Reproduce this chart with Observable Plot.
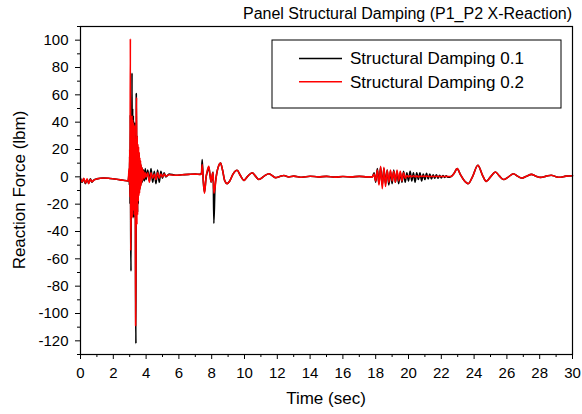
<!DOCTYPE html>
<html><head><meta charset="utf-8">
<script src="https://cdn.jsdelivr.net/npm/d3@7"></script>
<script src="https://cdn.jsdelivr.net/npm/@observablehq/plot@0.6"></script>
<style>body{margin:0;background:#fff} #chart{width:582px;height:414px}</style>
</head><body><div id="chart"></div>
<script>
const chartTitle = "Panel Structural Damping (P1_P2 X-Reaction)";
const xTitle = "Time (sec)";
const yTitle = "Reaction Force (lbm)";
const seriesNames = ["Structural Damping 0.1", "Structural Damping 0.2"];
const seriesColors = ["#000000", "#ff0000"];

const time = [
  0, 0.1, 0.2, 0.3, 0.4, 0.5, 0.6, 0.7, 0.8,
  1.0, 1.4, 1.8, 2.2, 2.6, 2.9,
  2.92, 2.94, 2.96, 2.98, 3.00, 3.02, 3.04, 3.06, 3.08, 3.10,
  3.12, 3.14, 3.16, 3.18, 3.20, 3.22, 3.24, 3.26, 3.28, 3.30,
  3.32, 3.34, 3.36, 3.38, 3.40, 3.42, 3.44, 3.46, 3.48, 3.50,
  3.52, 3.54, 3.56, 3.58, 3.60, 3.62, 3.64, 3.66, 3.68, 3.70,
  3.72, 3.74, 3.76, 3.78, 3.80, 3.85, 3.90, 3.95, 4.00,
  4.1, 4.2, 4.3, 4.4, 4.5, 4.6, 4.7, 4.8, 4.9, 5.0, 5.1, 5.2, 5.4,
  5.8, 6.2, 6.6, 7.0, 7.3,
  7.38, 7.42, 7.49, 7.56, 7.66, 7.74, 7.82, 7.90, 7.97, 8.05,
  8.09, 8.13, 8.20, 8.30, 8.42, 8.54, 8.66, 8.80, 8.94, 9.10,
  9.30, 9.55, 9.75, 9.96, 10.2, 10.47, 10.67, 10.87, 11.2, 11.48,
  11.7, 11.9, 12.15, 12.4, 12.7,
  13.0, 13.5, 14.0, 14.5, 15.0, 15.5, 16.0, 16.5, 17.0, 17.5, 17.8,
  17.9, 18.0, 18.1, 18.2, 18.3, 18.4, 18.5, 18.6, 18.7, 18.8,
  18.9, 19.0, 19.1, 19.2, 19.3, 19.4, 19.5, 19.6, 19.7, 19.8,
  19.9, 20.0, 20.1, 20.2, 20.3, 20.4, 20.5, 20.6, 20.7, 20.8,
  20.9, 21.0, 21.1, 21.2, 21.3, 21.4, 21.5, 21.6, 21.7, 21.8,
  21.9, 22.0, 22.1, 22.2, 22.3, 22.4, 22.6,
  22.75, 22.97, 23.15, 23.35, 23.64, 23.9, 24.23, 24.5, 24.74, 25.0,
  25.3, 25.55, 25.8, 26.1, 26.4, 26.65, 26.9, 27.2, 27.5, 27.75,
  28.05, 28.4, 28.7, 28.95, 29.2, 29.6, 30.0
];

const damping01 = [
  -1, -4, -1.5, -5, -2, -4.5, -1.5, -4, -2.5,
  -1.5, -0.8, -1.2, -1.8, -2.5, -3,
  -2, 0, 4, -6, 15, -20, 45, -40, -69, 30,
  -10, 76, -20, 50, -25, 45, -30, 38, -20, 40,
  -15, 30, -90, -122, 61, 20, -25, 30, -26, 22,
  -20, 18, -12, 16, -10, 12, -8, 10, -6, 8,
  -5, 7, -4, 6, -3, 5, -3, 6, -2,
  5, -3, 6, -4, 4, -5, 5, -4, 4, -1, 3, 0, 2,
  1.2, 1.5, 1.8, 2, 1.8,
  3, 12.6, -4, -11, 0, 4, 7, 1, -3.8, 2,
  3.5, -34, -8, 2, 8, 10, 5, -3, -5, -3,
  2, 4.8, 1, -2.6, 0.5, 3, 0.5, -2, 0.5, 2.3,
  0.8, -0.6, 0.2, 1, 0,
  0.5, -0.3, 0.4, 0, 0.3, -0.2, 0.2, 0, 0.3, 0, 0,
  3, -4, 6, -5, 7, -6, 6, -5, 5, -6,
  4, -5, 5, -4, 4, -5, 3, -4, 4, -4,
  3, -3, 4, -3, 3, -4, 3, -2, 3, -3,
  2, -2, 2.5, -1.5, 2, -1.5, 1.5, -1, 1.5, -1,
  1.2, -0.8, 1, -0.5, 0.8, -0.3, 0.3,
  2, 6, 2, -2, -5, 0, 8.5, 1.5, -3.3, 0,
  3.5, 0.5, -2, 0, 2.3, 0.5, -0.9, 0.5, 1.8, 0.6,
  -0.4, 0.5, 1.2, 0.3, -0.3, 0.5, 0.8
];

const damping02 = [
  -2, -3.5, -1, -4.5, -1.5, -5, -2, -3.5, -2.5,
  -1.5, -0.8, -1.2, -1.8, -2.5, -3,
  -2, 2, 6, -4, 20, -15, 101, -54, -30, 25,
  -20, 45, -30, 42, -20, 40, -25, 35, -28, 38,
  -20, 25, -109, -60, 45, 58, -35, 30, -28, 24,
  -18, 22, -14, 18, -12, 14, -9, 12, -7, 9,
  -5, 7, -3, 6, -2, 4, -1, 3, 0,
  3, -4, 3, -1, 2, -2, 3, -1, 2, 0, 2, 0.5, 1.5,
  1.2, 1.5, 1.8, 2, 1.8,
  2, 9, -3, -12, 0, 5, 7.7, 1, -3.8, 2.5,
  3, -12, -8, 2, 8, 10, 5, -3, -5, -3,
  2, 4.8, 1, -2.6, 0.5, 3, 0.5, -2, 0.5, 2.3,
  0.8, -0.6, 0.2, 1, 0,
  0.5, -0.3, 0.4, 0, 0.3, -0.2, 0.2, 0, 0.3, 0, 0,
  2, -3, 5, -6, 7.7, -8.7, 7, -7, 5, -4,
  5, -3, 4, -4, 5, -3, 4, -3, 3, -1,
  1, 0, 1, 0, 0.8, 0, 0.7, 0, 0.6, 0.2,
  0.5, 0.2, 0.5, 0.2, 0.4, 0.2, 0.4, 0.2, 0.4, 0.2,
  0.3, 0.2, 0.3, 0.2, 0.3, 0.2, 0.3,
  2, 6, 2, -2, -5, 0, 8.5, 1.5, -3.3, 0,
  3.5, 0.5, -2, 0, 2.3, 0.5, -0.9, 0.5, 1.8, 0.6,
  -0.4, 0.5, 1.2, 0.3, -0.3, 0.5, 0.8
];

const xTicks = [0, 2, 4, 6, 8, 10, 12, 14, 16, 18, 20, 22, 24, 26, 28, 30];
const xMinorTicks = [1, 3, 5, 7, 9, 11, 13, 15, 17, 19, 21, 23, 25, 27, 29];
const yTicks = [-120, -100, -80, -60, -40, -20, 0, 20, 40, 60, 80, 100];
const yMinorTicks = [-130, -110, -90, -70, -50, -30, -10, 10, 30, 50, 70, 90, 110];

const rows01 = time.map((t, i) => ({t, f: damping01[i]}));
const rows02 = time.map((t, i) => ({t, f: damping02[i]}));

const font = "Liberation Sans, Arial, Helvetica, sans-serif";

const chart = Plot.plot({
  width: 582, height: 414,
  marginLeft: 80, marginRight: 10, marginTop: 26, marginBottom: 60,
  style: {fontFamily: font, fontSize: "15px", background: "white", color: "black", overflow: "visible"},
  x: {domain: [0, 30]},
  y: {domain: [-130, 110]},
  marks: [
    Plot.axisX({ticks: xTicks, tickSize: 5, tickPadding: 8, label: null, fontSize: 15, tickFormat: d => String(d)}),
    Plot.axisX({ticks: xMinorTicks, tickSize: 3, label: null, tickFormat: () => ""}),
    Plot.axisY({ticks: yTicks, tickSize: 5, tickPadding: 7, label: null, fontSize: 15, tickFormat: d => String(d)}),
    Plot.axisY({ticks: yMinorTicks, tickSize: 3, label: null, tickFormat: () => ""}),
    Plot.line(rows01, {x: "t", y: "f", stroke: seriesColors[0], strokeWidth: 1.6, curve: "monotone-x"}),
    Plot.line(rows02, {x: "t", y: "f", stroke: seriesColors[1], strokeWidth: 1.6, curve: "monotone-x"}),
    Plot.frame({stroke: "#000", strokeWidth: 1.2})
  ]
});

document.getElementById("chart").appendChild(chart);
const svg = d3.select(chart);

svg.append("text").attr("x", 572).attr("y", 19).attr("text-anchor", "end")
  .attr("font-family", font).attr("font-size", 16).attr("fill", "#000").text(chartTitle);

svg.append("text").attr("x", 326).attr("y", 404).attr("text-anchor", "middle")
  .attr("font-family", font).attr("font-size", 17).attr("fill", "#000").text(xTitle);

svg.append("text").attr("transform", "translate(25,190) rotate(-90)").attr("text-anchor", "middle")
  .attr("font-family", font).attr("font-size", 17).attr("fill", "#000").text(yTitle);

const lg = svg.append("g");
lg.append("rect").attr("x", 272).attr("y", 40).attr("width", 289).attr("height", 68)
  .attr("fill", "white").attr("stroke", "#000").attr("stroke-width", 1);
seriesNames.forEach((name, i) => {
  const y = 58.5 + i * 23.3;
  lg.append("line").attr("x1", 299).attr("x2", 342).attr("y1", y).attr("y2", y)
    .attr("stroke", seriesColors[i]).attr("stroke-width", 1.5);
  lg.append("text").attr("x", 350).attr("y", y).attr("dy", "0.35em").attr("text-anchor", "start")
    .attr("font-family", font).attr("font-size", 17).attr("fill", "#000").text(name);
});
</script>
</body></html>
